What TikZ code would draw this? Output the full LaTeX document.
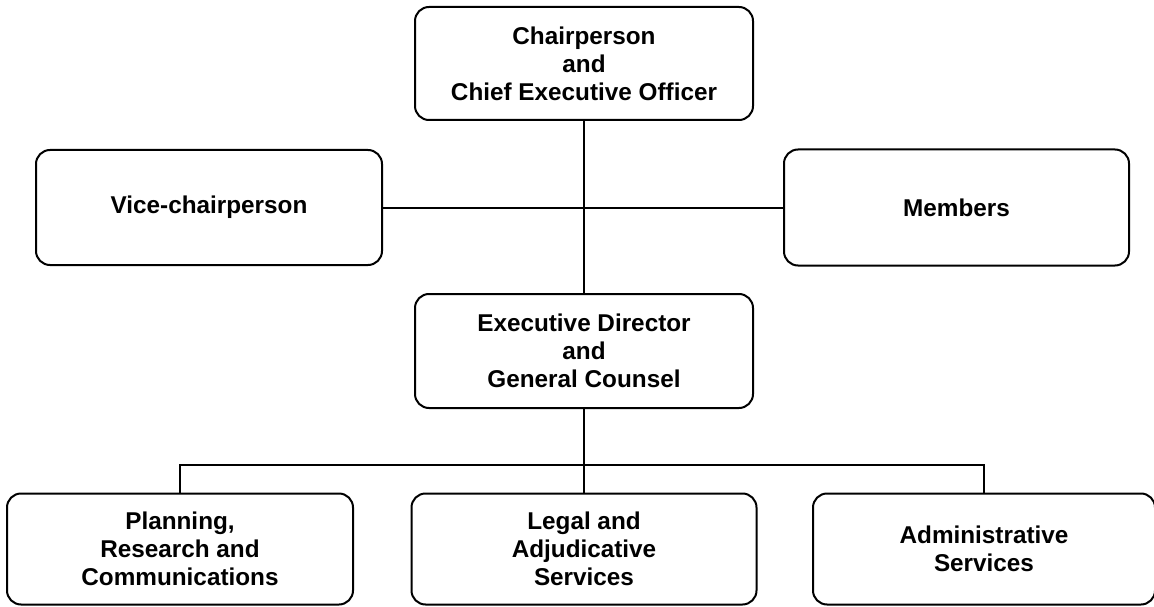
\documentclass[tikz,border=0pt]{standalone}
\usepackage{fontspec}
\setmainfont{Liberation Sans}
\begin{document}
\begin{tikzpicture}[x=1pt,y=-1pt,
  box/.style={draw,line width=2pt,rounded corners=14pt,inner sep=0pt,align=center,
    font=\bfseries\fontsize{24.3}{28}\selectfont},
  link/.style={line width=2pt}]
\useasboundingbox (0,0) rectangle (1154,607);
\node[box,minimum width=338pt,minimum height=113pt] (chair) at (584,63.5) {Chairperson\\and\\Chief Executive Officer};
\node[box,minimum width=346pt,minimum height=115pt] (vice) at (209,207.5) {Vice-chairperson};
\node[box,minimum width=345pt,minimum height=116pt] (members) at (956.5,207.5) {Members};
\node[box,minimum width=338pt,minimum height=114pt] (exec) at (584,351) {Executive Director\\and\\General Counsel};
\node[box,minimum width=346pt,minimum height=111pt] (plan) at (180,549) {Planning,\\Research and\\Communications};
\node[box,minimum width=345pt,minimum height=111pt] (legal) at (584,549) {Legal and\\Adjudicative\\Services};
\node[box,minimum width=342pt,minimum height=111pt] (admin) at (984,549) {Administrative\\Services};
\coordinate (bus) at (584,465);
\draw[link] (chair) -- (exec);
\draw[link] (vice) -- (members);
\draw[link] (exec) -- (legal);
\draw[link] (plan.north) |- (bus) -| (admin.north);
\end{tikzpicture}
\end{document}
